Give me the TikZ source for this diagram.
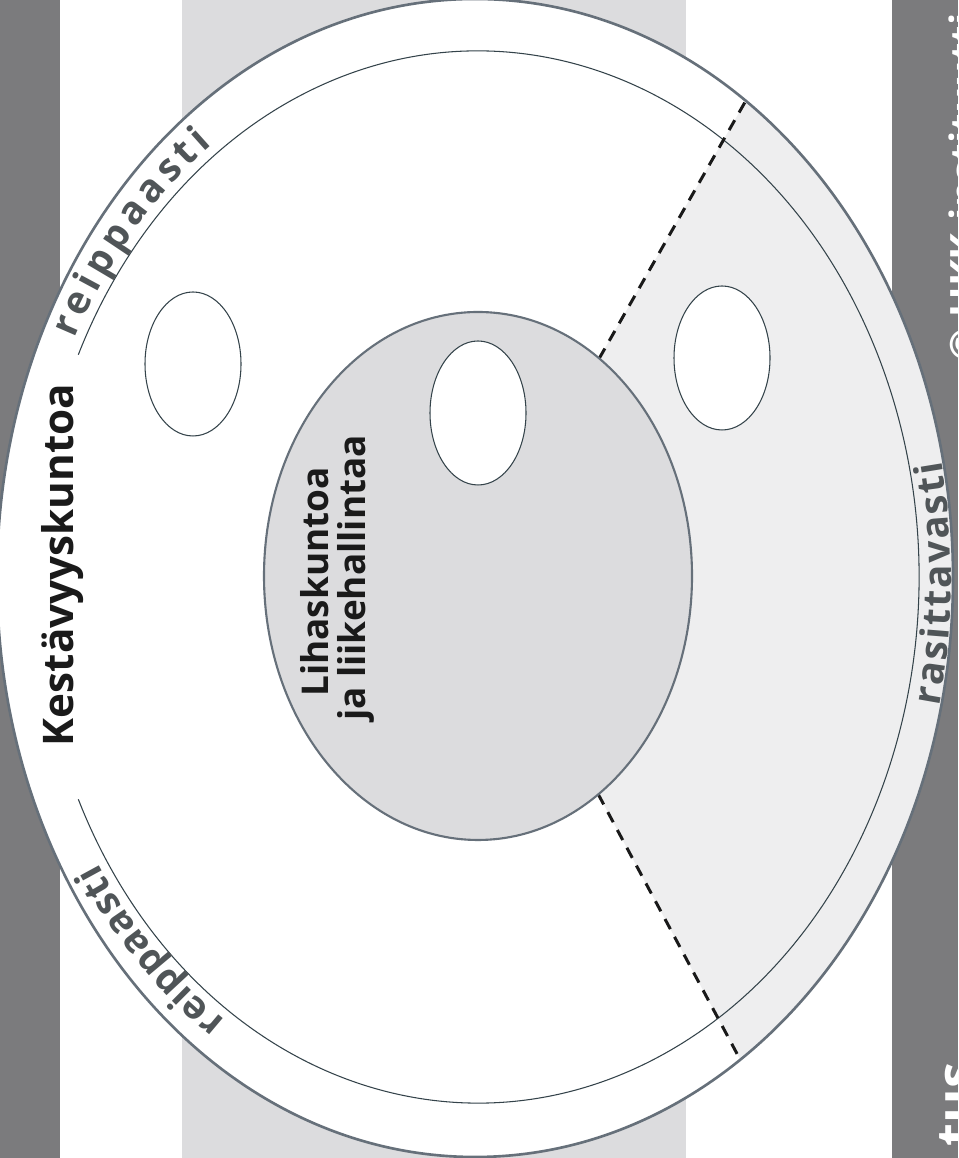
\documentclass[tikz,border=0pt]{standalone}
\usepackage{fontspec}
\setmainfont{Open Sans}
\setsansfont{Open Sans}
\usetikzlibrary{calc,decorations.text}
\definecolor{darkstrip}{HTML}{7B7B7D}
\definecolor{lightstrip}{HTML}{DCDCDE}
\definecolor{sectorgray}{HTML}{EEEEEF}
\definecolor{innergray}{HTML}{DCDCDE}
\definecolor{edgegray}{HTML}{66707A}
\definecolor{linegray}{HTML}{34434A}
\definecolor{arctext}{HTML}{505558}
\definecolor{labeltext}{HTML}{1A1A1A}
\newcommand\arcfont{\bfseries\fontsize{22}{22}\selectfont}
\begin{document}
\begin{tikzpicture}[x=0.02cm,y=0.02cm,
  outerfill/.style={fill=white},
  outeredge/.style={draw=edgegray,line width=1.5pt},
  thinring/.style={draw=linegray,line width=0.6pt},
  grayell/.style={draw=edgegray,fill=innergray,line width=1.2pt},
  hole/.style={draw=linegray,fill=white,line width=0.6pt},
  dashline/.style={draw=black!90,line width=1.7pt,dash pattern=on 6.5pt off 5pt},
  mainlabel/.style={text=labeltext,font=\bfseries\fontsize{21}{21}\selectfont,inner sep=0pt},
  striplabel/.style={text=white,font=\bfseries\fontsize{23}{23}\selectfont,inner sep=0pt},
  arctextstyle/.style={decorate,decoration={text along path,text align={fit to path},text color=arctext}}
]
\useasboundingbox (0,0) rectangle (958,1158);
% background strips
\fill[lightstrip] (182,0) rectangle (686,1158);
\fill[darkstrip] (0,0) rectangle (60,1158);
\fill[darkstrip] (892,0) rectangle (958,1158);

% centres
\coordinate (O) at (475,580);
\coordinate (I) at (478,581);
\coordinate (G) at (478,582);

% outer ellipse fill
\fill[outerfill] (O) ellipse [x radius=478, y radius=579];

% sector points
\coordinate (G1) at ($(G)+(55.5:214 and 264)$);
\coordinate (E1) at ($(O)+(55.5:478 and 579)$);
\coordinate (G2) at ($(G)+(-55.8:214 and 264)$);
\coordinate (E2) at ($(O)+(-56.3:478 and 579)$);
\fill[sectorgray] (G1) -- (E1) arc[start angle=55.5,end angle=-56.3,x radius=478,y radius=579] -- (G2) -- cycle;

% outer edge
\draw[outeredge] (O) ellipse [x radius=478, y radius=579];

% inner thin ring (open on the left)
\coordinate (R1) at ($(I)+(-155:441 and 526)$);
\draw[thinring] (R1) arc[start angle=-155,end angle=155,x radius=441,y radius=526];

% dashed borders
\draw[dashline] (G1) -- (E1);
\draw[dashline] (G2) -- (E2);

% central gray ellipse
\draw[grayell] (G) ellipse [x radius=214, y radius=264];

% small empty ellipses
\draw[hole] (193,794) ellipse [x radius=48, y radius=72];
\draw[hole] (478,745) ellipse [x radius=48, y radius=72];
\draw[hole] (722,800) ellipse [x radius=48, y radius=72];

% labels
\node[mainlabel,font=\bfseries\fontsize{24}{24}\selectfont,rotate=90,anchor=base] (kest) at (73,593) {Kestävyyskuntoa};
\node[mainlabel,rotate=90,anchor=base] (lihas1) at (328,576) {Lihaskuntoa};
\node[mainlabel,rotate=90,anchor=base] (lihas2) at (365,580) {ja liikehallintaa};

% arc texts
\coordinate (A1) at ($(I)+(153.6:450 and 536)$);
\path[arctextstyle,decoration={text={|\arcfont|reippaasti}}] (A1) arc[start angle=153.6,end angle=126.2,x radius=450,y radius=536];
\coordinate (A2) at ($(I)+(235.8:450 and 536)$);
\path[arctextstyle,decoration={text={|\arcfont|reippaasti}}] (A2) arc[start angle=235.8,end angle=212.3,x radius=450,y radius=536];
\coordinate (A3) at ($(O)+(-12.9:476 and 575)$);
\path[arctextstyle,decoration={text={|\arcfont|rasittavasti}}] (A3) arc[start angle=-12.9,end angle=11.7,x radius=476,y radius=575];

% strip texts
\node[striplabel,rotate=90,anchor=base east] (ukk) at (979,1145) {© UKK-instituutti};
\node[striplabel,font=\bfseries\fontsize{30}{30}\selectfont,rotate=90,anchor=base east] (tus) at (974,96) {tus};
\end{tikzpicture}
\end{document}
